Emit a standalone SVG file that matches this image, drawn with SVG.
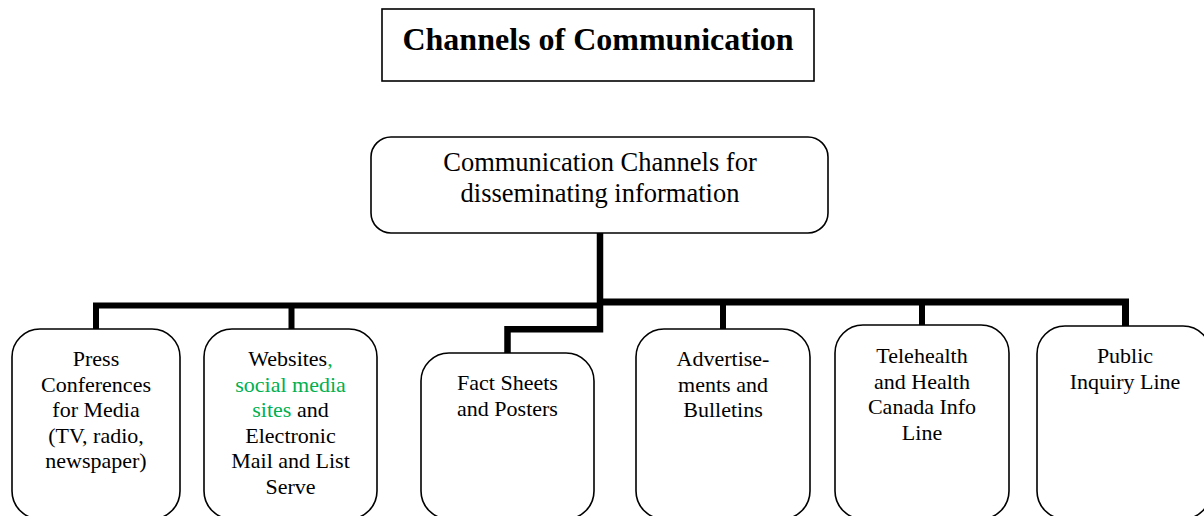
<svg xmlns="http://www.w3.org/2000/svg" width="1204" height="516" viewBox="0 0 1204 516">
<style>
.box{fill:#fff;stroke:#000;stroke-width:1.6}
.t{font-family:"Liberation Serif","Times New Roman",serif;font-size:22px;fill:#000;text-anchor:middle}
.big{font-size:26.5px}
.g{fill:#00B050}
.c{fill:none;stroke:#000;stroke-linejoin:miter;stroke-linecap:butt}
</style>
<rect width="1204" height="516" fill="#fff"/>
<g id="title">
<rect x="382" y="9" width="432" height="72" fill="#fff" stroke="#000" stroke-width="1.6"/>
<text x="598" y="50" font-family="Liberation Serif,'Times New Roman',serif" font-size="32" font-weight="bold" text-anchor="middle">Channels of Communication</text>
</g>
<g id="connectors">
<polyline class="c" stroke-width="6" points="96,329 96,305.5 600,305.5"/>
<polyline class="c" stroke-width="7" points="600,302 1125.5,302 1125.5,326"/>
<polyline class="c" stroke-width="6.5" points="600,233 600,329.2 507.5,329.2 507.5,353"/>
<line class="c" stroke-width="6" x1="291.5" y1="305" x2="291.5" y2="329"/>
<line class="c" stroke-width="6" x1="723" y1="302" x2="723" y2="329"/>
<line class="c" stroke-width="6" x1="922" y1="302" x2="922" y2="325"/>
</g>
<g id="root">
<rect class="box" x="371" y="137" width="457" height="96" rx="20"/>
<text class="t big" x="600" y="170.5">Communication Channels for</text>
<text class="t big" x="600" y="202">disseminating information</text>
</g>
<g id="press">
<rect class="box" x="12" y="329" width="168" height="190" rx="28"/>
<text class="t" x="96" y="366">Press</text>
<text class="t" x="96" y="391.6">Conferences</text>
<text class="t" x="96" y="417.2">for Media</text>
<text class="t" x="96" y="442.8">(TV, radio,</text>
<text class="t" x="96" y="468.4">newspaper)</text>
</g>
<g id="websites">
<rect class="box" x="204" y="329" width="173" height="190" rx="28"/>
<text class="t" x="290.5" y="366">Websites<tspan class="g">,</tspan></text>
<text class="t g" x="290.5" y="391.6">social media</text>
<text class="t" x="290.5" y="417.2"><tspan class="g">sites</tspan> and</text>
<text class="t" x="290.5" y="442.8">Electronic</text>
<text class="t" x="290.5" y="468.4">Mail and List</text>
<text class="t" x="290.5" y="494">Serve</text>
</g>
<g id="factsheets">
<rect class="box" x="421" y="353" width="173" height="166" rx="28"/>
<text class="t" x="507.5" y="390">Fact Sheets</text>
<text class="t" x="507.5" y="415.6">and Posters</text>
</g>
<g id="ads">
<rect class="box" x="636" y="329" width="174" height="190" rx="28"/>
<text class="t" x="723" y="366">Advertise-</text>
<text class="t" x="723" y="391.6">ments and</text>
<text class="t" x="723" y="417.2">Bulletins</text>
</g>
<g id="telehealth">
<rect class="box" x="835" y="325" width="174" height="194" rx="28"/>
<text class="t" x="922" y="363">Telehealth</text>
<text class="t" x="922" y="388.6">and Health</text>
<text class="t" x="922" y="414.2">Canada Info</text>
<text class="t" x="922" y="439.8">Line</text>
</g>
<g id="inquiry">
<rect class="box" x="1037" y="326" width="174" height="193" rx="28"/>
<text class="t" x="1125" y="363">Public</text>
<text class="t" x="1125" y="388.6">Inquiry Line</text>
</g>
</svg>
